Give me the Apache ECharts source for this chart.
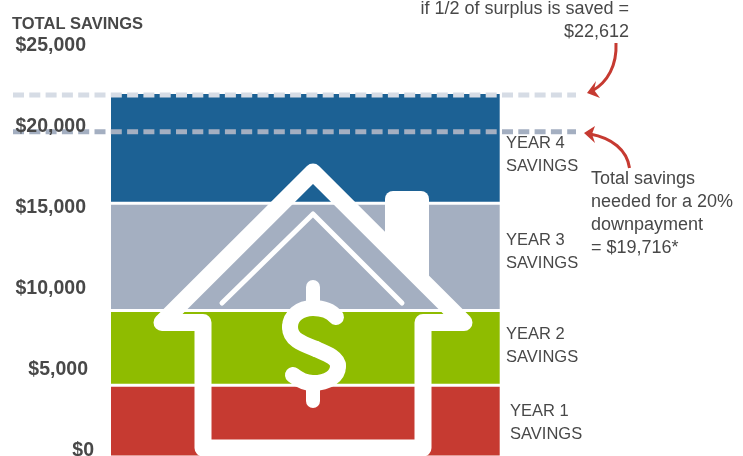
<!DOCTYPE html>
<html>
<head>
<meta charset="utf-8">
<style>html,body{margin:0;background:#fff}#chart{width:743px;height:456px}</style>
<script src="https://cdn.jsdelivr.net/npm/echarts@6/dist/echarts.min.js"></script>
</head>
<body>
<div id="chart"></div>
<script>
const categories = ['Total savings']
const yearNames = ['Year 1', 'Year 2', 'Year 3', 'Year 4']
const yearStarts = [-500, 3932, 8549, 15173]
const yearEnds = [3932, 8549, 15173, 21914]
const yearColors = ['#c63a31', '#8fbc00', '#a4afc1', '#1c6194']
const tickValues = [0, 5000, 10000, 15000, 20000, 25000]
const tickLabels = ['$0', '$5,000', '$10,000', '$15,000', '$20,000', '$25,000']
const surplusLine = [21852, 21852]
const neededLine = [19586, 19586]

const chart = echarts.init(document.getElementById('chart'))
const font = '"Liberation Sans", sans-serif'
const textColor = '#484848'

const yRange = { min: -5000, max: 25000, interval: 5000 }

function renderYear (params, api) {
  const x = api.coord([api.value(0), 0])[0]
  const w = api.size([1, 0])[0]
  const top = api.coord([0, api.value(2)])[1]
  const bottom = api.coord([0, api.value(1)])[1]
  // white gap between the bands, none on the very top
  const gapTop = params.dataIndex === 3 ? 0 : 1.5
  return {
    type: 'rect',
    shape: { x: x - w / 2, y: top + gapTop, width: w, height: bottom - top - gapTop - 1.5 },
    style: { fill: yearColors[api.value(3)] }
  }
}

function dashed (name, values, color) {
  return {
    name,
    type: 'line',
    xAxisIndex: 1,
    yAxisIndex: 1,
    z: 5,
    symbol: 'none',
    silent: true,
    data: values.map((v, i) => [i, v]),
    lineStyle: { color, width: 5, type: [11, 5.3], cap: 'butt' }
  }
}

function text (x, y, str, opts) {
  return {
    type: 'text',
    z: 110,
    x,
    y,
    style: Object.assign({
      text: str,
      font: '16.5px ' + font,
      fill: textColor,
      textVerticalAlign: 'middle',
      lineHeight: 23
    }, opts || {})
  }
}

// one cubic piece for the drawn icon and arrows
function curve (p, style, z) {
  return {
    type: 'bezierCurve',
    z,
    shape: { x1: p[0], y1: p[1], cpx1: p[2], cpy1: p[3], cpx2: p[4], cpy2: p[5], x2: p[6], y2: p[7] },
    style
  }
}

const white = { stroke: '#fff', fill: null, lineJoin: 'round', lineCap: 'round' }
const dollarStroke = Object.assign({}, white, { lineWidth: 16 })
const arrowStroke = { stroke: '#c63a31', fill: null, lineWidth: 3 }

const graphics = [
  // house outline
  { type: 'polygon', z: 100, shape: { points: [[162, 322.5], [313, 172], [464, 322.5], [423, 322.5], [423, 448], [203, 448], [203, 322.5]] },
    style: Object.assign({}, white, { lineWidth: 17 }) },
  { type: 'polyline', z: 100, shape: { points: [[222, 303], [313, 214], [402, 303]] },
    style: Object.assign({}, white, { lineWidth: 5 }) },
  // chimney
  { type: 'rect', z: 100, shape: { x: 385, y: 191, width: 44, height: 30, r: [8, 8, 0, 0] }, style: { fill: '#fff' } },
  { type: 'polygon', z: 100, shape: { points: [[385, 215], [429, 215], [429, 285], [385, 241]] }, style: { fill: '#fff' } },
  // dollar sign
  curve([336, 317, 330, 310, 322, 308, 313, 308], dollarStroke, 101),
  curve([313, 308, 300, 308, 290, 316, 290, 327], dollarStroke, 101),
  curve([290, 327, 290, 340, 303, 344, 316, 349], dollarStroke, 101),
  curve([316, 349, 328, 354, 338, 358, 338, 366], dollarStroke, 101),
  curve([338, 366, 338, 376, 328, 383, 313, 383], dollarStroke, 101),
  curve([313, 383, 304, 383, 298, 379, 293, 375], dollarStroke, 101),
  { type: 'polyline', z: 101, shape: { points: [[313, 287], [313, 305]] }, style: Object.assign({}, white, { lineWidth: 14 }) },
  { type: 'polyline', z: 101, shape: { points: [[313, 385], [313, 401]] }, style: Object.assign({}, white, { lineWidth: 14 }) },
  // red arrows
  curve([616, 43, 617, 65, 608, 82, 592, 91], arrowStroke, 102),
  { type: 'polygon', z: 102, shape: { points: [[587, 93], [596, 81], [594, 90], [600, 98]] }, style: { fill: '#c63a31' } },
  curve([629.5, 168, 627, 150, 612, 138, 590, 134], arrowStroke, 102),
  { type: 'polygon', z: 102, shape: { points: [[584, 133], [595, 126], [592, 134], [595, 143]] }, style: { fill: '#c63a31' } },
  // texts
  text(12, 24, 'TOTAL SAVINGS', { font: 'bold 16.5px ' + font }),
  text(629, 20.5, 'if 1/2 of surplus is saved =\n$22,612', { textAlign: 'right', font: '18px ' + font }),
  text(506, 155, 'YEAR 4\nSAVINGS'),
  text(506, 252, 'YEAR 3\nSAVINGS'),
  text(506, 346, 'YEAR 2\nSAVINGS'),
  text(510, 423, 'YEAR 1\nSAVINGS'),
  text(591, 213.5, 'Total savings\nneeded for a 20%\ndownpayment\n= $19,716*', { font: '18px ' + font })
]

chart.setOption({
  animation: false,
  grid: [
    { left: 111, top: 44, width: 388.7, height: 486, outerBoundsMode: 'none' },
    { left: 13, top: 44, width: 563, height: 486, outerBoundsMode: 'none' }
  ],
  xAxis: [
    { type: 'category', data: categories, show: false },
    { type: 'value', gridIndex: 1, min: 0, max: 1, show: false }
  ],
  yAxis: [
    Object.assign({
      type: 'value',
      z: 6,
      axisLine: { show: false },
      axisTick: { show: false },
      splitLine: { show: false },
      axisLabel: {
        margin: 17,
        color: textColor,
        fontFamily: font,
        fontWeight: 'bold',
        fontSize: 19.5,
        formatter: function (v) {
          const i = tickValues.indexOf(v)
          if (i < 0) return ''
          if (i === 0) return '{a|' + tickLabels[i] + '}'
          return (i === 1 ? '{b|' : '{c|') + tickLabels[i] + '}'
        },
        rich: {
          a: { color: textColor, fontWeight: 'bold', fontSize: 19.5, fontFamily: font, padding: [3, 0, 0, 0] },
          b: { color: textColor, fontWeight: 'bold', fontSize: 19.5, fontFamily: font, padding: [3, 6, 0, 0] },
          c: { color: textColor, fontWeight: 'bold', fontSize: 19.5, fontFamily: font, padding: [3, 8, 0, 0] }
        }
      }
    }, yRange),
    Object.assign({ type: 'value', gridIndex: 1, show: false }, yRange)
  ],
  series: [
    {
      name: 'Savings by year',
      type: 'custom',
      renderItem: renderYear,
      encode: { x: 0, y: [1, 2] },
      data: yearNames.map((n, i) => [0, yearStarts[i], yearEnds[i], i])
    },
    dashed('If 1/2 of surplus is saved', surplusLine, '#d6dce5'),
    dashed('Needed for downpayment', neededLine, '#a4afc1')
  ],
  graphic: graphics
})
</script>
</body>
</html>
